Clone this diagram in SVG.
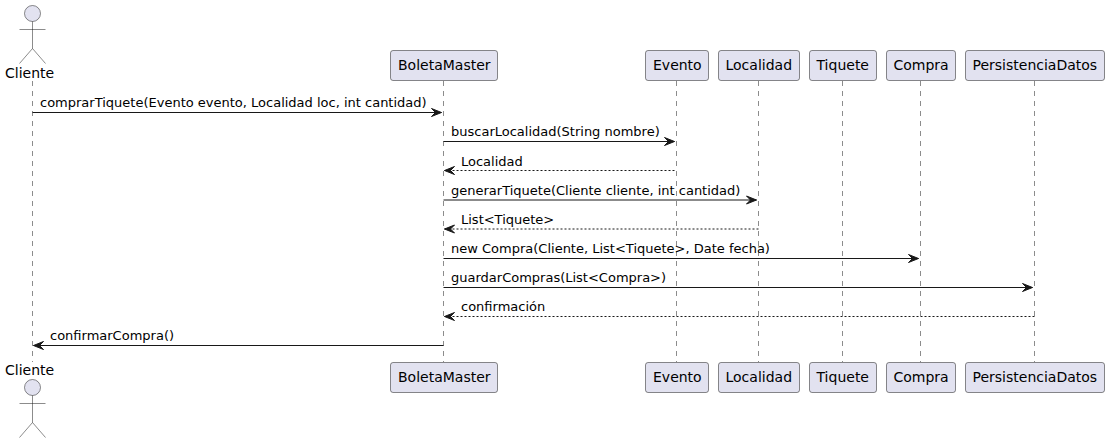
<svg xmlns="http://www.w3.org/2000/svg" width="1109" height="443" viewBox="0 0 1109 443">
<style>
text{font-family:"DejaVu Sans",sans-serif;fill:#000}
.n{font-size:14px}
.m{font-size:13px}
.box{fill:#E2E2F0;stroke:#181818;stroke-width:.5}
.act{fill:#E2E2F0;stroke:#181818;stroke-width:.5}
.life{stroke:#181818;stroke-width:.5;stroke-dasharray:5 5;fill:none}
.s{stroke:#181818;stroke-width:1;fill:none}
.d{stroke:#181818;stroke-width:1;stroke-dasharray:2 2;fill:none}
.h{fill:#181818;stroke:#181818;stroke-width:1}
</style>
<g id="lifelines">
<line class="life" x1="32.5" y1="81" x2="32.5" y2="362"/>
<line class="life" x1="443.5" y1="81" x2="443.5" y2="362"/>
<line class="life" x1="676.5" y1="81" x2="676.5" y2="362"/>
<line class="life" x1="758.5" y1="81" x2="758.5" y2="362"/>
<line class="life" x1="842.5" y1="81" x2="842.5" y2="362"/>
<line class="life" x1="920.5" y1="81" x2="920.5" y2="362"/>
<line class="life" x1="1034.5" y1="81" x2="1034.5" y2="362"/>
</g>
<g id="connectors">
<line class="s" x1="32.5" y1="112.5" x2="441.5" y2="112.5"/>
<polygon class="h" points="431.5,108.5 441.5,112.5 431.5,116.5 435.5,112.5"/>
<line class="s" x1="443.5" y1="141.5" x2="674.5" y2="141.5"/>
<polygon class="h" points="664.5,137.5 674.5,141.5 664.5,145.5 668.5,141.5"/>
<line class="d" x1="444.5" y1="170.5" x2="676.5" y2="170.5"/>
<polygon class="h" points="454.5,166.5 444.5,170.5 454.5,174.5 450.5,170.5"/>
<line class="s" x1="443.5" y1="200" x2="756.5" y2="200"/>
<polygon class="h" points="746.5,196 756.5,200 746.5,204 750.5,200"/>
<line class="d" x1="444.5" y1="229" x2="758.5" y2="229"/>
<polygon class="h" points="454.5,225 444.5,229 454.5,233 450.5,229"/>
<line class="s" x1="443.5" y1="258.5" x2="918.5" y2="258.5"/>
<polygon class="h" points="908.5,254.5 918.5,258.5 908.5,262.5 912.5,258.5"/>
<line class="s" x1="443.5" y1="287.5" x2="1032.5" y2="287.5"/>
<polygon class="h" points="1022.5,283.5 1032.5,287.5 1022.5,291.5 1026.5,287.5"/>
<line class="d" x1="444.5" y1="316.5" x2="1034.5" y2="316.5"/>
<polygon class="h" points="454.5,312.5 444.5,316.5 454.5,320.5 450.5,316.5"/>
<line class="s" x1="33.5" y1="345.5" x2="443.5" y2="345.5"/>
<polygon class="h" points="43.5,341.5 33.5,345.5 43.5,349.5 39.5,345.5"/>
</g>
<g id="messages">
<text class="m" x="40" y="107">comprarTiquete(Evento evento, Localidad loc, int cantidad)</text>
<text class="m" x="451" y="136">buscarLocalidad(String nombre)</text>
<text class="m" x="461" y="166">Localidad</text>
<text class="m" x="451" y="195">generarTiquete(Cliente cliente, int cantidad)</text>
<text class="m" x="461" y="224">List&lt;Tiquete&gt;</text>
<text class="m" x="451" y="253">new Compra(Cliente, List&lt;Tiquete&gt;, Date fecha)</text>
<text class="m" x="451" y="282">guardarCompras(List&lt;Compra&gt;)</text>
<text class="m" x="461" y="311">confirmación</text>
<text class="m" x="50" y="340">confirmarCompra()</text>
</g>
<g id="actor-cliente-top">
<circle class="act" cx="32.5" cy="13.5" r="8"/>
<path class="act" style="fill:none" d="M32.5 21.5V48.5M19.5 29.5H45.5M32.5 48.5L19.5 63.5M32.5 48.5L45.5 63.5"/>
<text class="n" x="5" y="78">Cliente</text>
</g>
<g id="actor-cliente-bottom">
<text class="n" x="5" y="375">Cliente</text>
<circle class="act" cx="32.5" cy="387.5" r="8"/>
<path class="act" style="fill:none" d="M32.5 395.5V422.5M19.5 403.5H45.5M32.5 422.5L19.5 437.5M32.5 422.5L45.5 437.5"/>
</g>
<g id="boletamaster-top"><rect class="box" x="390.5" y="50.5" width="107" height="30" rx="2.5"/><text class="n" x="398" y="70">BoletaMaster</text></g>
<g id="evento-top"><rect class="box" x="645.5" y="50.5" width="63" height="30" rx="2.5"/><text class="n" x="653" y="70">Evento</text></g>
<g id="localidad-top"><rect class="box" x="718.5" y="50.5" width="81" height="30" rx="2.5"/><text class="n" x="725.5" y="70">Localidad</text></g>
<g id="tiquete-top"><rect class="box" x="809.5" y="50.5" width="67" height="30" rx="2.5"/><text class="n" x="816.5" y="70">Tiquete</text></g>
<g id="compra-top"><rect class="box" x="886.5" y="50.5" width="69" height="30" rx="2.5"/><text class="n" x="893.5" y="70">Compra</text></g>
<g id="persistencia-top"><rect class="box" x="965.5" y="50.5" width="139" height="30" rx="2.5"/><text class="n" x="972.5" y="70">PersistenciaDatos</text></g>
<g id="boletamaster-bottom"><rect class="box" x="390.5" y="362.5" width="107" height="30" rx="2.5"/><text class="n" x="398" y="382">BoletaMaster</text></g>
<g id="evento-bottom"><rect class="box" x="645.5" y="362.5" width="63" height="30" rx="2.5"/><text class="n" x="653" y="382">Evento</text></g>
<g id="localidad-bottom"><rect class="box" x="718.5" y="362.5" width="81" height="30" rx="2.5"/><text class="n" x="725.5" y="382">Localidad</text></g>
<g id="tiquete-bottom"><rect class="box" x="809.5" y="362.5" width="67" height="30" rx="2.5"/><text class="n" x="816.5" y="382">Tiquete</text></g>
<g id="compra-bottom"><rect class="box" x="886.5" y="362.5" width="69" height="30" rx="2.5"/><text class="n" x="893.5" y="382">Compra</text></g>
<g id="persistencia-bottom"><rect class="box" x="965.5" y="362.5" width="139" height="30" rx="2.5"/><text class="n" x="972.5" y="382">PersistenciaDatos</text></g>
</svg>
